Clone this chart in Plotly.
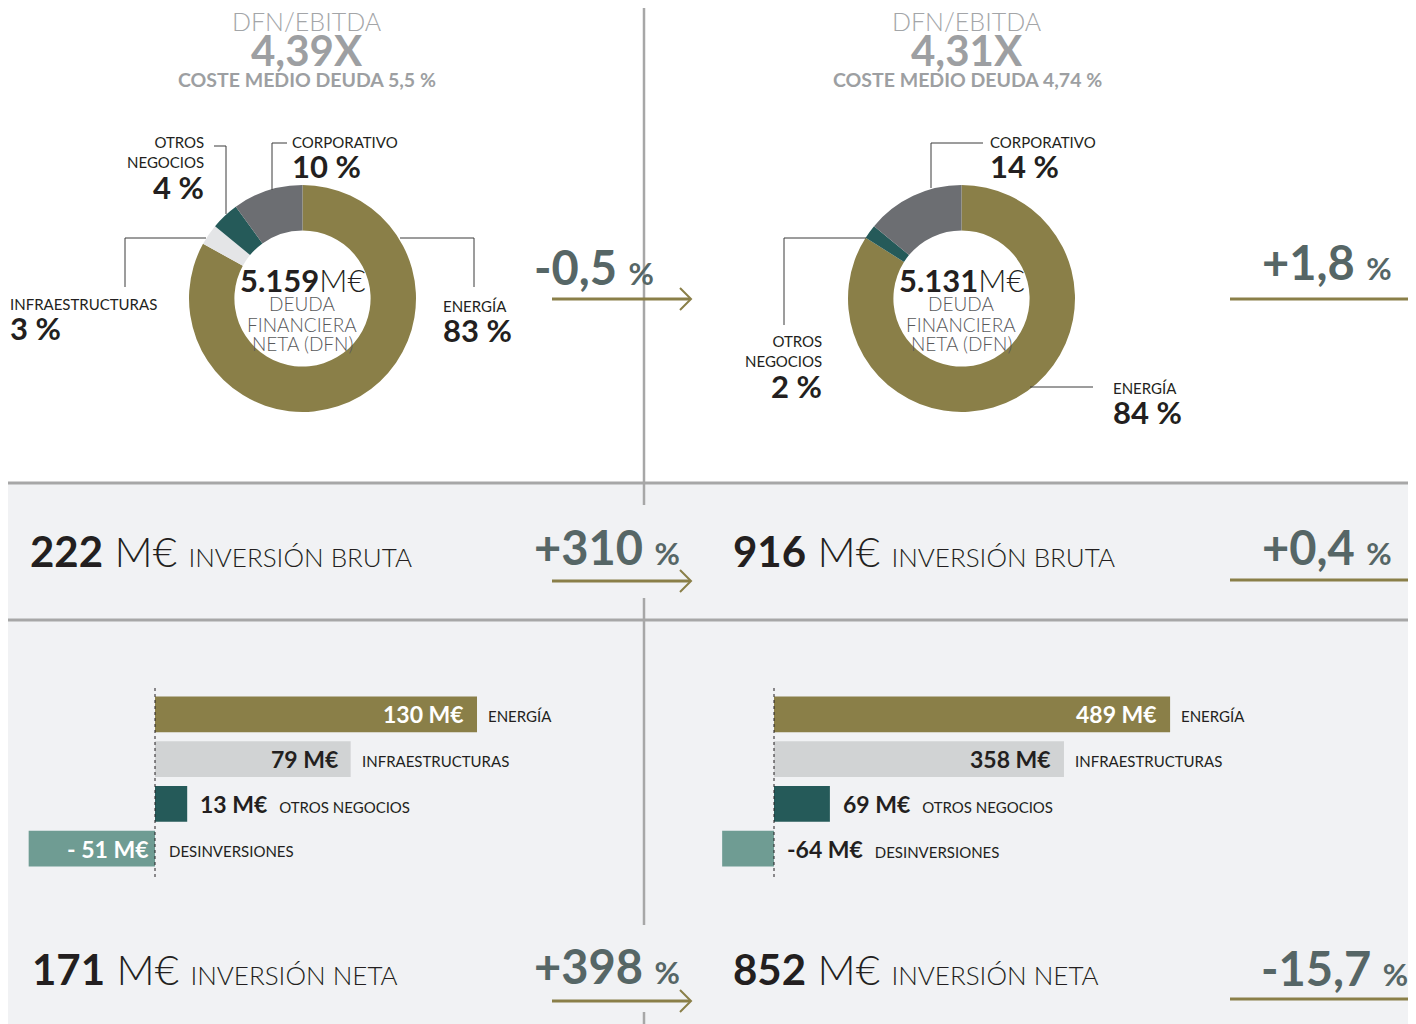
import plotly.graph_objects as go

# page body keeps an 8px margin, so the figure is drawn a bit smaller and offset
OFF = 8
W, H = 1416 - OFF, 1024 - OFF

# deuda financiera neta por negocio (%)
dfn_labels_1 = ["ENERGÍA", "INFRAESTRUCTURAS", "OTROS NEGOCIOS", "CORPORATIVO"]
dfn_values_1 = [83, 3, 4, 10]
dfn_labels_2 = ["ENERGÍA", "OTROS NEGOCIOS", "CORPORATIVO"]
dfn_values_2 = [84, 2, 14]
dfn_total = ["5.159", "5.131"]
dfn_ebitda = ["4,39X", "4,31X"]
coste_deuda = ["5,5 %", "4,74 %"]
dfn_change = ["-0,5", "+1,8"]

# inversion por negocio (M€)
inv_categories = ["ENERGÍA", "INFRAESTRUCTURAS", "OTROS NEGOCIOS", "DESINVERSIONES"]
inv_values_1 = [130, 79, 13, -51]
inv_values_2 = [489, 358, 69, -64]
inv_bruta = [222, 916]
inv_neta = [171, 852]
bruta_change = ["+310", "+0,4"]
neta_change = ["+398", "-15,7"]

OLIVE = "#8a7f48"
DARK = "#231f20"
SLATE = "#566666"
GREYTXT = "#a3a5a8"
LINE = "#a7a7a7"
FONT = "Lato"

slice_colors = {"ENERGÍA": OLIVE, "INFRAESTRUCTURAS": "#e4e5e7",
                "OTROS NEGOCIOS": "#255a59", "CORPORATIVO": "#6c6e72"}
bar_colors = {"ENERGÍA": OLIVE, "INFRAESTRUCTURAS": "#d1d3d4",
              "OTROS NEGOCIOS": "#255a59", "DESINVERSIONES": "#6f9c93"}


def px(x):
    return max(0, (x - OFF) / W)


def py(y):
    return 1 - (y - OFF) / H


fig = go.Figure()

# donuts
for labels, values, x0 in [(dfn_labels_1, dfn_values_1, 189), (dfn_labels_2, dfn_values_2, 848)]:
    fig.add_trace(go.Pie(labels=labels, values=values, hole=0.6, sort=False,
                         direction="clockwise", rotation=0, textinfo="none",
                         marker=dict(colors=[slice_colors[l] for l in labels], line=dict(width=0)),
                         domain=dict(x=[px(x0), px(x0 + 227)], y=[py(412), py(185)]),
                         showlegend=False, hoverinfo="label+percent"))

# bars
fig.add_trace(go.Bar(x=inv_values_1, y=inv_categories, orientation="h", width=0.8,
                     marker=dict(color=[bar_colors[c] for c in inv_categories], line=dict(width=0)),
                     xaxis="x", yaxis="y", showlegend=False))
fig.add_trace(go.Bar(x=inv_values_2, y=inv_categories, orientation="h", width=0.8,
                     marker=dict(color=[bar_colors[c] for c in inv_categories], line=dict(width=0)),
                     xaxis="x2", yaxis="y2", showlegend=False))

ydom = [py(871), py(692)]
# left: zero at px 155, 2.477 px per M€ ; right: zero at px 774, 0.81 px per M€
s1, z1 = 2.477, 155
s2, z2 = 0.81, 774
xr1 = [(OFF - z1) / s1, (644 - z1) / s1]
xr2 = [(644 - z2) / s2, (1416 - z2) / s2]
ax = dict(visible=False, showgrid=False, zeroline=False, fixedrange=True)
fig.update_layout(
    xaxis=dict(domain=[0, px(644)], range=xr1, **ax),
    yaxis=dict(domain=ydom, range=[3.5, -0.5], categoryorder="array",
               categoryarray=inv_categories, **ax),
    xaxis2=dict(domain=[px(644), 1], range=xr2, anchor="y2", **ax),
    yaxis2=dict(domain=ydom, range=[3.5, -0.5], categoryorder="array",
                categoryarray=inv_categories, anchor="x2", **ax),
)

shapes = []
# grey panel + separators
shapes.append(dict(type="rect", xref="paper", yref="paper", x0=0, x1=1, y0=0, y1=py(483),
                   fillcolor="#f1f2f4", line=dict(width=0), layer="below"))
for yy in [483, 620]:
    shapes.append(dict(type="line", xref="paper", yref="paper", x0=0, x1=1, y0=py(yy), y1=py(yy),
                       line=dict(color=LINE, width=3)))
for a, b in [(OFF, 505), (598, 925), (1012, 1024)]:
    shapes.append(dict(type="line", xref="paper", yref="paper", x0=px(644), x1=px(644),
                       y0=py(a), y1=py(b), line=dict(color=LINE, width=2.5)))

# dotted zero lines of bars
for xr in ["x", "x2"]:
    shapes.append(dict(type="line", xref=xr, yref="paper", x0=0, x1=0, y0=py(688), y1=py(880),
                       line=dict(color=DARK, width=1, dash="dot")))

# donut leader lines
leaders = [
    [(214, 146), (226, 146), (226, 214)],
    [(287, 143), (272, 143), (272, 190)],
    [(125, 287), (125, 238), (206, 238)],
    [(400, 238), (474, 238), (474, 287)],
    [(983, 143), (931, 143), (931, 188)],
    [(784, 325), (784, 238), (866, 238)],
    [(1030, 387), (1093, 387)],
]
for pts in leaders:
    path = "M " + " L ".join(f"{px(x)} {py(y)}" for x, y in pts)
    shapes.append(dict(type="path", xref="paper", yref="paper", path=path,
                       line=dict(color="#3a3a3a", width=1)))

# change arrows / lines
for y in [299, 581, 1001]:
    shapes.append(dict(type="line", xref="paper", yref="paper", x0=px(552), x1=px(690),
                       y0=py(y), y1=py(y), line=dict(color=OLIVE, width=3)))
    shapes.append(dict(type="path", xref="paper", yref="paper",
                       path=f"M {px(680)} {py(y - 11)} L {px(691)} {py(y)} L {px(680)} {py(y + 11)}",
                       line=dict(color=OLIVE, width=2)))
for y in [299, 580, 999]:
    shapes.append(dict(type="line", xref="paper", yref="paper", x0=px(1230), x1=1,
                       y0=py(y), y1=py(y), line=dict(color=OLIVE, width=3)))

ann = []


def text(x, y, t, size, color=DARK, weight=400, xanchor="left", yanchor="middle", align="left", **kw):
    ann.append(dict(x=px(x), y=py(y), xref="paper", yref="paper", text=t, showarrow=False,
                    xanchor=xanchor, yanchor=yanchor, align=align,
                    font=dict(family=FONT, size=size, color=color, weight=weight), **kw))


# headers
for cx, r, c in [(307, dfn_ebitda[0], coste_deuda[0]), (967, dfn_ebitda[1], coste_deuda[1])]:
    text(cx, 21, "DFN/EBITDA", 25, GREYTXT, 300, xanchor="center")
    text(cx, 50, f"<b>{r}</b>", 42, "#9d9fa2", 700, xanchor="center")
    text(cx, 80, f"COSTE MEDIO DEUDA {c}", 19.5, "#9d9fa2", 700, xanchor="center")

# donut centres
for cx, tot in [(302, dfn_total[0]), (961, dfn_total[1])]:
    text(cx, 280, f"<b>{tot}</b>M€", 31, DARK, 300, xanchor="center")
    for yy, line in zip([304, 324, 343], ["DEUDA", "FINANCIERA", "NETA (DFN)"]):
        text(cx, yy, line, 19, "#58595b", 300, xanchor="center")


# donut labels
def seg_label(x, y, name, val, xanchor="left"):
    al = "right" if xanchor == "right" else "left"
    nlines = name.count("<br>") + 1
    text(x, y, name, 15, DARK, 400, xanchor=xanchor, yanchor="top", align=al)
    text(x, y + 21 * nlines + 14, f"<b>{val} %</b>", 31, DARK, 700, xanchor=xanchor, align=al)


seg_label(206, 131, "OTROS<br>NEGOCIOS", dfn_values_1[2], "right")
seg_label(290, 131, "CORPORATIVO", dfn_values_1[3])
seg_label(7, 293, "INFRAESTRUCTURAS", dfn_values_1[1])
seg_label(441, 295, "ENERGÍA", dfn_values_1[0])
seg_label(988, 131, "CORPORATIVO", dfn_values_2[2])
seg_label(824, 330, "OTROS<br>NEGOCIOS", dfn_values_2[1], "right")
seg_label(1111, 377, "ENERGÍA", dfn_values_2[0])


# change indicators
def change(x, y, t):
    text(x, y, f"<b>{t}</b> <span style='font-size:31px'>%</span>", 47, SLATE, 700)


change(532, 267, dfn_change[0])
change(1260, 262, dfn_change[1])
change(532, 547, bruta_change[0])
change(1260, 547, bruta_change[1])
change(532, 966, neta_change[0])
change(1259, 968, neta_change[1])

# totals
for x, y, v, lab in [(28, 551, inv_bruta[0], "INVERSIÓN BRUTA"), (731, 551, inv_bruta[1], "INVERSIÓN BRUTA"),
                     (30, 969, inv_neta[0], "INVERSIÓN NETA"), (731, 969, inv_neta[1], "INVERSIÓN NETA")]:
    text(x, y, f"<b>{v}</b> M€ <span style='font-size:26px'>{lab}</span>", 42, DARK, 300)

# bar labels
for xr, yr, vals, scale in [("x", "y", inv_values_1, s1), ("x2", "y2", inv_values_2, s2)]:
    for cat, v in zip(inv_categories, vals):
        val_txt = f"{v} M€" if not (xr == "x" and v < 0) else f"- {abs(v)} M€"
        inside = abs(v) * scale > 100
        col = "white" if bar_colors[cat] in (OLIVE, "#6f9c93") else DARK
        if inside:
            if v > 0:
                ann.append(dict(x=v, y=cat, xref=xr, yref=yr, text=f"<b>{val_txt}</b>", showarrow=False,
                                xanchor="right", xshift=-11, font=dict(family=FONT, size=23, color=col)))
                ann.append(dict(x=v, y=cat, xref=xr, yref=yr, text=cat, showarrow=False,
                                xanchor="left", xshift=9, yshift=-2,
                                font=dict(family=FONT, size=15, color=DARK)))
            else:
                ann.append(dict(x=0, y=cat, xref=xr, yref=yr, text=f"<b>{val_txt}</b>", showarrow=False,
                                xanchor="right", xshift=-4, font=dict(family=FONT, size=23, color=col)))
                ann.append(dict(x=0, y=cat, xref=xr, yref=yr, text=cat, showarrow=False,
                                xanchor="left", xshift=12, yshift=-2,
                                font=dict(family=FONT, size=15, color=DARK)))
        else:
            base = max(v, 0)
            ann.append(dict(x=base, y=cat, xref=xr, yref=yr,
                            text=f"<b>{val_txt}</b>  <span style='font-size:15px'>{cat}</span>",
                            showarrow=False, xanchor="left", xshift=11,
                            font=dict(family=FONT, size=23, color=DARK)))

fig.update_layout(width=W, height=H, margin=dict(l=0, r=0, t=0, b=0),
                  paper_bgcolor="white", plot_bgcolor="rgba(0,0,0,0)",
                  shapes=shapes, annotations=ann, bargap=0.2)

fig.write_html("out.html")
